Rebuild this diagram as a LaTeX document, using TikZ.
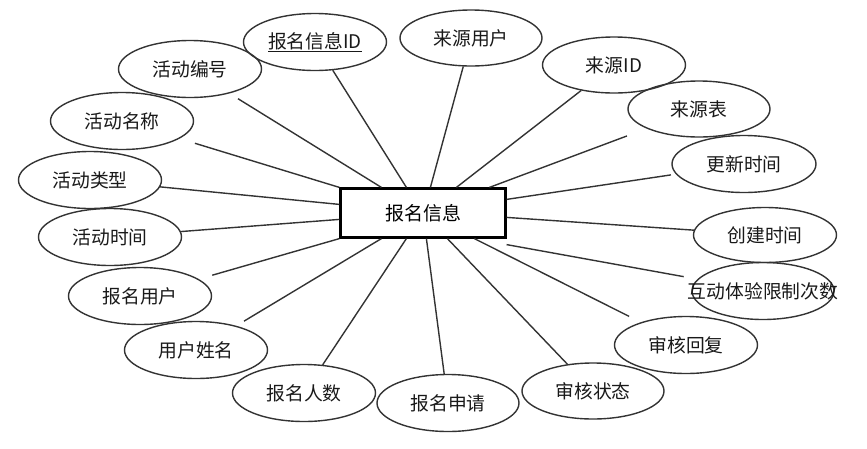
\documentclass[tikz,border=0pt]{standalone}
\usepackage{fontspec}
\newfontfamily\cjk{Noto Sans CJK SC}
\usetikzlibrary{shapes.geometric}
\definecolor{lnc}{HTML}{333333}
\tikzset{
  attr/.style={ellipse,draw=lnc,line width=1.4pt,minimum width=143pt,minimum height=57pt,inner sep=0pt,font=\cjk\fontsize{18.8}{21}\selectfont,text=black!90},
  ent/.style={rectangle,draw=black,line width=2.2pt,minimum width=165pt,minimum height=49pt,inner sep=0pt,font=\cjk\fontsize{19}{21}\selectfont},
  conn/.style={draw=lnc,line width=1.4pt}
}
\begin{document}
\begin{tikzpicture}[x=1pt,y=-1pt]
\useasboundingbox (0,0) rectangle (867,448);
\node[ent] (r) at (423,213) {报名信息};
\node[attr] (id) at (315,42) {\underline{报名信息ID}};
\node[attr] (bh) at (190,69) {活动编号};
\node[attr] (mc) at (122,121) {活动名称};
\node[attr] (lx) at (90,180) {活动类型};
\node[attr] (sj) at (110,237) {活动时间};
\node[attr] (yh) at (140,296) {报名用户};
\node[attr] (xm) at (196,350) {用户姓名};
\node[attr] (rs) at (304,393) {报名人数};
\node[attr,minimum width=142pt] (sq) at (448,403) {报名申请};
\node[attr,minimum width=142pt,minimum height=56pt] (zt) at (593,391) {审核状态};
\node[attr] (hf) at (686,345) {审核回复};
\node[attr,minimum width=142pt] (cs) at (763,291) {\makebox[0pt]{互动体验限制次数}};
\node[attr,minimum height=55pt] (cj) at (765,235) {创建时间};
\node[attr,minimum width=144pt] (gx) at (744,164) {更新时间};
\node[attr,minimum width=142pt,minimum height=56pt] (lb) at (699,109) {来源表};
\node[attr,minimum height=56pt] (lid) at (614,65) {来源ID};
\node[attr,minimum width=142pt,minimum height=56pt] (lyh) at (471,38) {来源用户};
\draw[conn,shorten >=10pt] ([xshift=42pt]r.north west) -- (bh);
\draw[conn] ([xshift=67pt]r.north west) -- (id);
\draw[conn] ([xshift=91pt]r.north west) -- (lyh);
\draw[conn] ([xshift=117pt]r.north west) -- (lid);
\draw[conn,shorten >=21pt] ([xshift=150pt]r.north west) -- (lb);
\draw[conn,shorten >=16pt] (r.north west) -- (mc);
\draw[conn] ([yshift=-17pt]r.north west) -- (lx);
\draw[conn] ([yshift=-32pt]r.north west) -- (sj);
\draw[conn,shorten >=14pt] (r.south west) -- (yh);
\draw[conn,shorten >=9pt] ([xshift=42pt]r.south west) -- (xm);
\draw[conn] ([xshift=67pt]r.south west) -- (rs);
\draw[conn] ([xshift=87pt]r.south west) -- (sq);
\draw[conn] ([xshift=108pt]r.south west) -- (zt);
\draw[conn,shorten >=13pt] ([xshift=135pt]r.south west) -- (hf);
\draw[conn,shorten >=14pt] ([yshift=-6pt]r.south east) -- (cs);
\draw[conn] ([yshift=-30pt]r.north east) -- (cj);
\draw[conn,shorten >=5pt] ([yshift=-12pt]r.north east) -- (gx);
\end{tikzpicture}
\end{document}
